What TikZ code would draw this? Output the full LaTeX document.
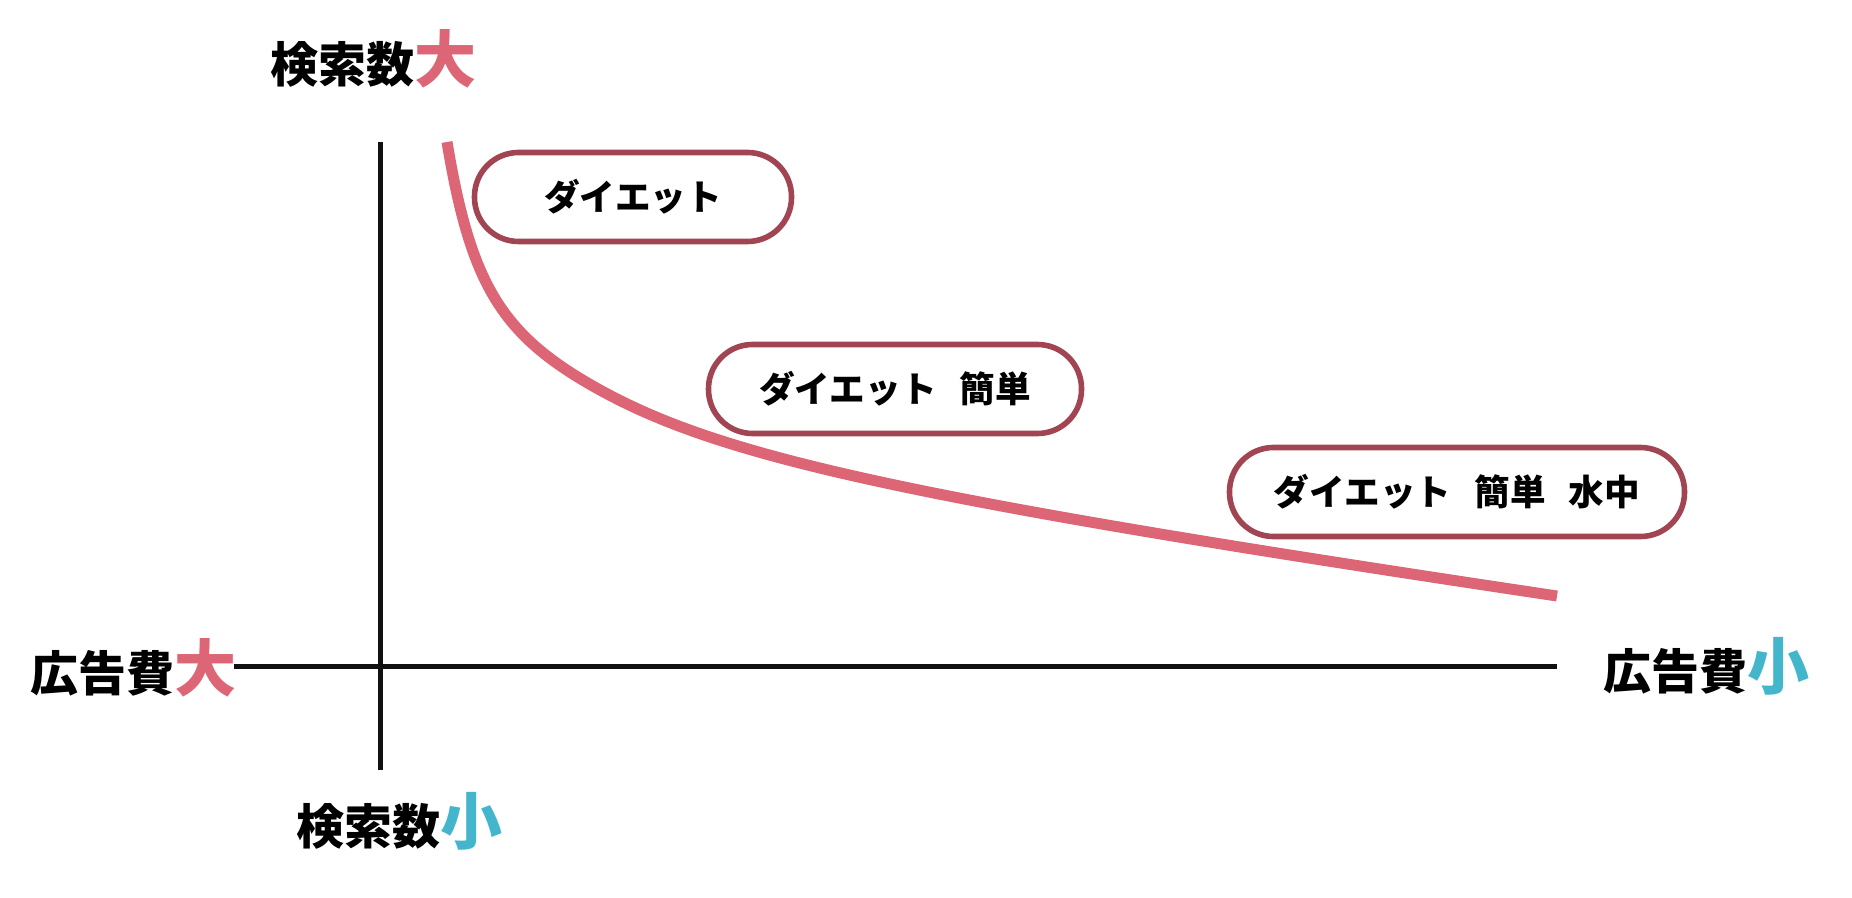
\documentclass[tikz,border=0pt]{standalone}
\usepackage{fontspec}
\newfontfamily\cjk{Noto Sans CJK JP}
\newfontfamily\cjkm{Noto Sans CJK JP Medium}
\definecolor{curvepink}{HTML}{DC6676}
\definecolor{boxrose}{HTML}{A24552}
\definecolor{accblue}{HTML}{44B6CC}
\definecolor{axisblack}{HTML}{111111}
\newcommand{\acc}[2]{{\cjkm\color{#1}\fontsize{31pt}{34pt}\selectfont #2}}
\begin{document}
\begin{tikzpicture}[x=0.5pt,y=-0.5pt,
  axisline/.style={draw=axisblack,line width=2.5pt},
  curveline/.style={draw=curvepink,line width=5.5pt},
  pill/.style={draw=boxrose,line width=2.8pt,fill=white,rounded corners=22pt,
    minimum height=44.5pt,inner sep=0pt,font=\cjk\bfseries\fontsize{17.8pt}{20pt}\selectfont},
  axlabel/.style={inner sep=0pt,anchor=base west,font=\cjk\bfseries\fontsize{24pt}{28pt}\selectfont}]
\useasboundingbox (0,0) rectangle (1852,898);
% axes
\coordinate (xl) at (234,666);
\coordinate (xr) at (1557,666);
\coordinate (yt) at (380,142);
\coordinate (yb) at (380,770);
\draw[axisline] (xl) -- (xr);
\draw[axisline] (yt) -- (yb);
% curve
\coordinate (c0) at (447,142);
\coordinate (c1) at (600,390);
\coordinate (c2) at (1557,596);
\draw[curveline] (c0) .. controls (471,286) and (502,336) .. (c1)
  .. controls (725,459) and (916,500) .. (c2);
% boxes
\node[pill,minimum width=158.5pt] (b1) at (633,197) {ダイエット};
\node[pill,minimum width=186.5pt] (b2) at (895,389) {ダイエット\hspace{0.65em}簡単};
\node[pill,minimum width=227.5pt] (b3) at (1457,492) {ダイエット\hspace{0.65em}簡単\hspace{0.65em}水中};
% labels
\node[axlabel] (ltop) at (270,83) {検索数\acc{curvepink}{大}};
\node[axlabel] (lbot) at (296,844) {検索数\acc{accblue}{小}};
\node[axlabel] (lleft) at (30,691) {広告費\acc{curvepink}{大}};
\node[axlabel] (lright) at (1603,689) {広告費\acc{accblue}{小}};
\end{tikzpicture}
\end{document}
